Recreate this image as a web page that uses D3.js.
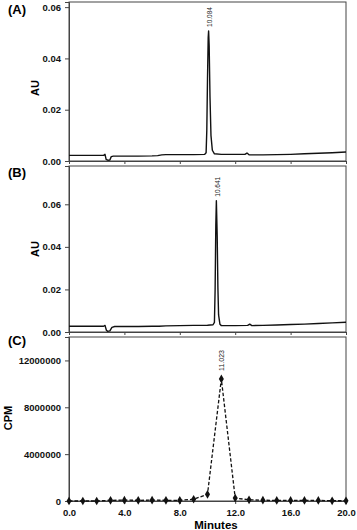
<!DOCTYPE html>
<html>
<head>
<meta charset="utf-8">
<script src="https://cdn.jsdelivr.net/npm/d3@7"></script>
<style>
  body { margin: 0; background: #fff; }
  text { font-family: "Liberation Sans", Arial, sans-serif; }
</style>
</head>
<body>
<div id="chart"></div>
<script>
// trace A (UV, minutes vs AU)
var timeA = [0, 1, 2, 2.5, 2.6, 2.68, 2.8, 2.95, 3.05, 3.2, 4, 5, 6, 6.4, 6.7, 7, 8, 9, 9.8, 9.9, 9.95, 10.0, 10.05, 10.08, 10.12, 10.18, 10.25, 10.35, 10.5, 11, 12, 12.7, 12.85, 13, 14, 15, 16, 17, 18, 19, 20];
var auA   = [0.0022, 0.0022, 0.0022, 0.0022, 0.0026, 0.0006, 0.0003, 0.0004, 0.0017, 0.0019, 0.0019, 0.0019, 0.0020, 0.0021, 0.0024, 0.0025, 0.0025, 0.0025, 0.0026, 0.0032, 0.012, 0.032, 0.048, 0.0507, 0.045, 0.025, 0.010, 0.0042, 0.0028, 0.0026, 0.0026, 0.0026, 0.0031, 0.0024, 0.0024, 0.0025, 0.0026, 0.0028, 0.0030, 0.0032, 0.0035];

// trace B
var timeB = [0, 1, 2, 2.5, 2.6, 2.7, 2.8, 2.95, 3.1, 3.3, 4, 5, 6, 6.5, 7, 8, 9, 10, 10.4, 10.5, 10.55, 10.6, 10.64, 10.7, 10.75, 10.8, 10.9, 11, 12, 12.9, 13.05, 13.2, 14, 15, 16, 17, 18, 19, 20];
var auB   = [0.0027, 0.0027, 0.0027, 0.0027, 0.0031, 0.0008, 0.0003, 0.0005, 0.0022, 0.0026, 0.0026, 0.0026, 0.0027, 0.0027, 0.0029, 0.0030, 0.0031, 0.0032, 0.0034, 0.0045, 0.020, 0.050, 0.0617, 0.045, 0.021, 0.008, 0.0036, 0.0030, 0.0030, 0.0031, 0.0037, 0.0030, 0.0031, 0.0033, 0.0035, 0.0037, 0.0040, 0.0043, 0.0046];

// trace C (radio fractions, one per minute)
var timeC = [0, 1, 2, 3, 4, 5, 6, 7, 8, 9, 10, 11, 12, 13, 14, 15, 16, 17, 18, 19, 20];
var cpmC  = [0, 0, 0, 60000, 70000, 60000, 70000, 60000, 60000, 150000, 570000, 10420000, 250000, 100000, 70000, 50000, 50000, 50000, 50000, 20000, 20000];

var xTicks = [0, 4, 8, 12, 16, 20];
var ticksAU_A = [0, 0.02, 0.04, 0.06];
var ticksAU_B = [0, 0.02, 0.04, 0.06];
var ticksCPM = [0, 4000000, 8000000, 12000000];
var peakLabels = ["10.084", "10.641", "11.023"];

var W = 357, H = 530;
var left = 69, right = 346;

var svg = d3.select("#chart").append("svg")
  .attr("width", W).attr("height", H);

var x = d3.scaleLinear().domain([0, 20]).range([left, right]);

var panels = [
  {name: "(A)", top: 2, bottom: 161, max: 0.062, ticks: ticksAU_A, fmt: d3.format(".2f"), ylab: "AU", ylabX: 39, ylabY: 88, labY: 14,
   t: timeA, v: auA, peak: 23, label: peakLabels[0]},
  {name: "(B)", top: 166, bottom: 332, max: 0.078, ticks: ticksAU_B, fmt: d3.format(".2f"), ylab: "AU", ylabX: 39, ylabY: 249, labY: 177,
   t: timeB, v: auB, peak: 22, label: peakLabels[1]},
  {name: "(C)", top: 337, bottom: 501, max: 14000000, ticks: ticksCPM, fmt: d3.format("d"), ylab: "CPM", ylabX: 12, ylabY: 418, labY: 345,
   t: timeC, v: cpmC, peak: 11, label: peakLabels[2], dashed: true}
];

panels.forEach(function(p, i) {
  var y = d3.scaleLinear().domain([0, p.max]).range([p.bottom, p.top]);
  var g = svg.append("g");

  // frame
  g.append("rect")
    .attr("x", left).attr("y", p.top)
    .attr("width", right - left).attr("height", p.bottom - p.top)
    .attr("fill", "none").attr("stroke", "#444").attr("stroke-width", 1);

  // y axis
  var ya = g.append("g")
    .attr("transform", "translate(" + left + ",0)")
    .call(d3.axisLeft(y).tickValues(p.ticks).tickFormat(p.fmt).tickSize(4).tickPadding(4));
  ya.select(".domain").attr("stroke", "#444");
  ya.selectAll(".tick line").attr("stroke", "#444");
  ya.selectAll("text").attr("font-size", 9.5).attr("font-weight", "bold").attr("fill", "#111");

  // x axis
  var xa = g.append("g")
    .attr("transform", "translate(0," + p.bottom + ")")
    .call(d3.axisBottom(x).tickValues(xTicks).tickFormat(i == 2 ? d3.format(".1f") : "").tickSize(3).tickPadding(5));
  xa.select(".domain").attr("stroke", "#444");
  xa.selectAll(".tick line").attr("stroke", "#444");
  xa.selectAll("text").attr("font-size", 9.5).attr("font-weight", "bold").attr("fill", "#111");

  // data
  var pts = p.t.map(function(d, k) { return [d, p.v[k]]; });
  var line = d3.line().x(function(d) { return x(d[0]); }).y(function(d) { return y(d[1]); });
  g.append("path")
    .datum(pts)
    .attr("d", line)
    .attr("fill", "none")
    .attr("stroke", "#111")
    .attr("stroke-width", p.dashed ? 1.3 : 1.4)
    .attr("stroke-dasharray", p.dashed ? "3.5,2" : null)
    .attr("stroke-linejoin", "round");

  if (p.dashed) {
    g.selectAll(".pt").data(pts).enter().append("path")
      .attr("class", "pt")
      .attr("transform", function(d) { return "translate(" + x(d[0]) + "," + y(d[1]) + ")"; })
      .attr("d", d3.symbol().type(d3.symbolDiamond).size(22))
      .attr("fill", "#111");
  }

  // peak label
  var px = x(p.t[p.peak]), py = y(p.v[p.peak]);
  g.append("text")
    .attr("transform", "translate(" + (px + (p.dashed ? 2.5 : 3.5)) + "," + (py - (p.dashed ? 8 : 4)) + ") rotate(-90)")
    .attr("font-size", p.dashed ? 7 : 6.5)
    .attr("fill", "#222")
    .text(p.label);

  // panel letter
  g.append("text")
    .attr("x", 8).attr("y", p.labY)
    .attr("font-size", 13).attr("font-weight", "bold")
    .text(p.name);

  // y label
  g.append("text")
    .attr("transform", "translate(" + p.ylabX + "," + p.ylabY + ") rotate(-90)")
    .attr("text-anchor", "middle")
    .attr("font-size", 11).attr("font-weight", "bold")
    .text(p.ylab);
});

svg.append("text")
  .attr("x", 216).attr("y", 529)
  .attr("text-anchor", "middle")
  .attr("font-size", 11.5).attr("font-weight", "bold")
  .text("Minutes");
</script>
</body>
</html>
